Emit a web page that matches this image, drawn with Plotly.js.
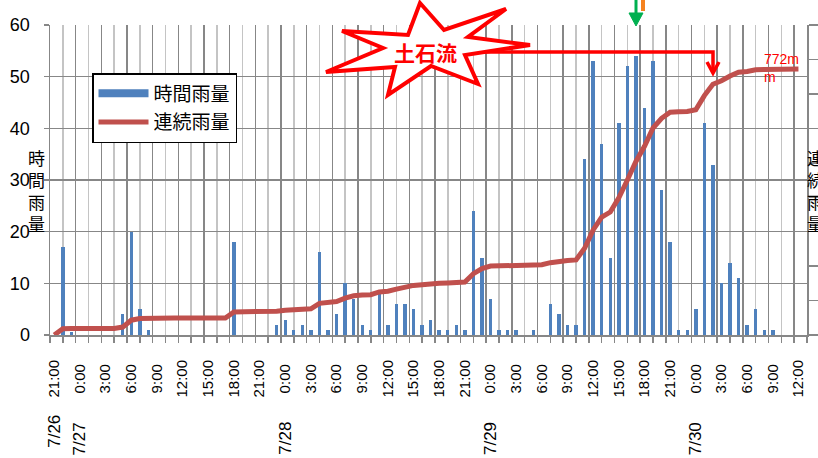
<!DOCTYPE html>
<html>
<head>
<meta charset="utf-8">
<script src="https://cdn.plot.ly/plotly-3.0.1.min.js"></script>
<style>
html,body{margin:0;padding:0;background:#fff;}
#chart{width:818px;height:458px;}
</style>
</head>
<body>
<div id="chart"></div>
<script>
// ---- data (hours counted from 7/26 21:00) ----
const hourlyRain = [
  0,17,0.5,0,0,0,0,0,4,20,
  5,1,0,0,0,0,0,0,0,0,
  0,18,0,0,0,0,2,3,1,2,
  1,16,1,4,10,7,2,1,8,2,
  6,6,5,2,3,1,1,2,1,24,
  15,7,1,1,1,0,1,0,6,4,
  2,2,34,53,37,15,41,52,54,44,
  53,28,18,1,1,5,41,33,10,14,
  11,2,5,1,1,0,0,0
];
const cumulativeRain = [
  0,18.5,19,19,19,19,19,19,23,43,
  48,49,49,49,49,49,49,49,49,49,
  49,67,67,67,67,67,69,72,73,75,
  76,92,93,97,107,114,116,117,125,127,
  133,139,144,146,149,150,151,153,154,178,
  193,200,201,202,203,203,204,204,210,214,
  216,218,252,305,342,357,398,450,504,548,
  601,629,647,648,649,654,695,728,738,752,
  763,765,770,771,772,772,772,772
];
const tickHours = [0,3,6,9,12,15,18,21,24,27,30,33,36,39,42,45,48,51,54,57,60,63,66,69,72,75,78,81,84,87];
const hourLabels = ["21:00","0:00","3:00","6:00","9:00","12:00","15:00","18:00","21:00",
  "0:00","3:00","6:00","9:00","12:00","15:00","18:00","21:00",
  "0:00","3:00","6:00","9:00","12:00","15:00","18:00","21:00",
  "0:00","3:00","6:00","9:00","12:00"];
const dateHours = [0,3,27,51,75];
const dateLabels = ["7/26","7/27","7/28","7/29","7/30"];
const seriesNames = ["時間雨量","連続雨量"];
const totalLabel = "772m<br>m";
const eventLabel = "土石流";
const leftTitle = "時間雨量";
const rightTitle = "連続雨量";

// ---- geometry helpers (plot area in pixels) ----
const W = 818, H = 458;
const L = 50, R = 807, T = 25, B = 335;
const px = (x) => (x - L) / (R - L);
const py = (y) => (B - y) / (B - T);
const pathFrom = (pts, close) => pts.map((p, i) => (i ? 'L' : 'M') + px(p[0]).toFixed(5) + ',' + py(p[1]).toFixed(5)).join(' ') + (close ? ' Z' : '');

const hoursIdx = hourlyRain.map((_, i) => i);
const FONT = "Liberation Sans, Arial, Noto Sans CJK JP, sans-serif";
const CJK = "Noto Sans CJK JP, sans-serif";
const DARK = '#878787', LIGHT = '#c4c4c4';
const BLUE = '#4f81bd', RED = '#c0504d';

const traces = [
  {type:'bar', name:seriesNames[0], x:hoursIdx, y:hourlyRain, xaxis:'x', yaxis:'y',
   marker:{color:BLUE}, width:0.4, legendgroup:'a', showlegend:false, hoverinfo:'skip'},
  // legend entry for the hourly bars, drawn as a wide band like the original legend key
  {type:'scatter', mode:'lines', name:seriesNames[0], x:[null], y:[null], xaxis:'x', yaxis:'y',
   line:{color:BLUE, width:8}, legendgroup:'a', hoverinfo:'skip'},
  {type:'scatter', mode:'lines', name:seriesNames[1], x:hoursIdx, y:cumulativeRain, xaxis:'x', yaxis:'y2',
   line:{color:RED, width:5}, legendgroup:'b', hoverinfo:'skip'},
  {type:'scatter', mode:'lines', x:[], y:[], xaxis:'x2', yaxis:'y', showlegend:false, hoverinfo:'skip'}
];

const vert = (s) => s.split('').join('<br>');

const annotations = [
  {xref:'paper', yref:'paper', x:px(36), y:py(190), text:vert(leftTitle), showarrow:false,
   font:{size:17, color:'#000', family:CJK}, xanchor:'center', yanchor:'middle'},
  {xref:'paper', yref:'paper', x:px(815), y:py(190), text:vert(rightTitle), showarrow:false,
   font:{size:17, color:'#000', family:CJK}, xanchor:'center', yanchor:'middle'},
  {xref:'paper', yref:'paper', x:px(762), y:py(49), text:totalLabel, showarrow:false, align:'left',
   font:{size:14, color:'#ff0000', family:FONT}, xanchor:'left', yanchor:'top'},
];
dateLabels.forEach((d, i) => {
  annotations.push({xref:'x', yref:'paper', x:dateHours[i], y:py(i === 0 ? 431.5 : 438.5), text:d,
    textangle:-90, showarrow:false, font:{size:17, color:'#000', family:FONT},
    xanchor:'center', yanchor:'middle'});
});

// star callout outline (pixel outline converted to paper coords)
const starPts = [[420,3],[444,30],[506,9],[468,37],[530,45],[465,55],[478,84],[431,66],
  [388,95],[395,67],[326,72],[383,48],[342,31],[408,35]];

const shapes = [
  {type:'path', xref:'paper', yref:'paper', path:pathFrom([[465,52],[713,52],[713,72]], false),
   line:{color:'#ff0000', width:3.5}},
  {type:'path', xref:'paper', yref:'paper', path:pathFrom([[707,62],[713,73],[719,62]], false),
   line:{color:'#ff0000', width:3.5}},
  {type:'path', xref:'paper', yref:'paper', path:pathFrom(starPts, true),
   line:{color:'#ff0000', width:4}, fillcolor:'#ffffff'},
  {type:'path', xref:'paper', yref:'paper', path:pathFrom([[636,0],[636,16]], false),
   line:{color:'#00b050', width:3}},
  {type:'path', xref:'paper', yref:'paper', path:pathFrom([[629,13],[643,13],[636,26]], true),
   line:{color:'#00b050', width:1}, fillcolor:'#00b050'},
  {type:'path', xref:'paper', yref:'paper', path:pathFrom([[643,0],[643,11]], false),
   line:{color:'#f58220', width:4}},
];

annotations.push({xref:'paper', yref:'paper', x:px(425), y:py(52), text:eventLabel, showarrow:false,
  font:{size:21, color:'#ff0000', family:CJK, weight:'bold'}, xanchor:'center', yanchor:'middle'});

const layout = {
  width:W, height:H,
  margin:{l:L, r:W-R, t:T, b:H-B, pad:0},
  paper_bgcolor:'#ffffff', plot_bgcolor:'#ffffff',
  font:{family:FONT, color:'#000', size:16},
  showlegend:true,
  bargap:0,
  legend:{x:px(92), y:py(73), xanchor:'left', yanchor:'top', bgcolor:'#ffffff',
    bordercolor:'#000', borderwidth:1.5, font:{size:19, family:CJK, color:'#000'},
    traceorder:'grouped', tracegroupgap:1, itemwidth:50},
  xaxis:{range:[-0.5,88], tickmode:'array', tickvals:tickHours,
    ticktext:hourLabels.map(s => s.length < 5 ? s + '\u00a0' : s),
    tickangle:-90, tickfont:{size:15, color:'#000', family:FONT},
    showgrid:false, zeroline:false, showline:false, ticks:'', ticklabelstandoff:21},
  xaxis2:{overlaying:'x', anchor:'y', side:'bottom', range:[-0.5,88], tickmode:'linear', tick0:-0.5, dtick:3,
    showticklabels:false, ticks:'outside', ticklen:6, tickcolor:DARK, tickwidth:1.5,
    showgrid:true, gridcolor:DARK, gridwidth:1.5, zeroline:false,
    showline:true, linecolor:DARK, linewidth:1.5,
    minor:{tick0:-0.5, dtick:1.5, showgrid:true, gridcolor:LIGHT, gridwidth:1.5,
      ticks:'outside', ticklen:6, tickcolor:DARK, tickwidth:1.5}},
  yaxis:{range:[0,60], tickmode:'linear', tick0:0, dtick:10, showgrid:true, gridcolor:DARK, gridwidth:1.5,
    zeroline:false, showline:true, linecolor:DARK, linewidth:1.5, ticks:'outside', ticklen:5,
    tickcolor:DARK, tickwidth:1.5, tickfont:{size:18, color:'#000', family:FONT}, ticklabelstandoff:10},
  yaxis2:{overlaying:'y', side:'right', range:[0,900], tickmode:'linear', tick0:0, dtick:100,
    showgrid:false, zeroline:false, showline:true, linecolor:DARK, linewidth:1.5,
    ticks:'outside', ticklen:10, tickcolor:DARK, tickwidth:1.5, showticklabels:false},
  annotations:annotations,
  shapes:shapes
};

Plotly.newPlot('chart', traces, layout, {displayModeBar:false, staticPlot:true});
</script>
</body>
</html>
